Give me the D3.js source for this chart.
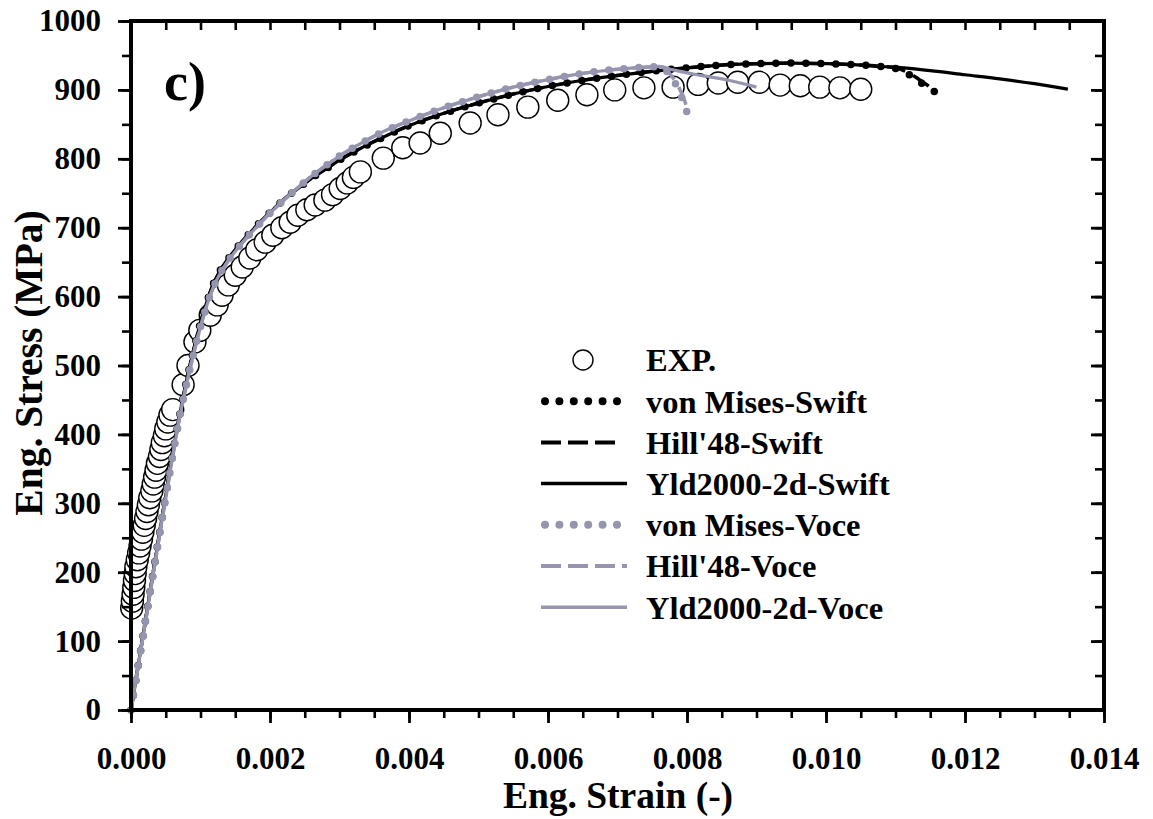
<!DOCTYPE html>
<html>
<head>
<meta charset="utf-8">
<script src="https://cdn.jsdelivr.net/npm/d3@7"></script>
<style>
  html, body { margin: 0; padding: 0; background: #fff; }
  svg { display: block; }
  text { font-family: "Liberation Serif", "Times New Roman", serif; font-weight: bold; fill: #000; }
</style>
</head>
<body>
<svg id="chart" width="1153" height="819"></svg>
<script>
// ---- Experimental points (engineering strain, engineering stress in MPa) ----
const expStrain = [
  0.00001, 0.00002, 0.00003, 0.00004, 0.00005, 0.00006, 0.00007, 0.00009, 0.00011, 0.00013,
  0.00015, 0.00017, 0.00019, 0.00021, 0.00023, 0.00025, 0.00027, 0.00030, 0.00032, 0.00034,
  0.00036, 0.00038, 0.00041, 0.00043, 0.00045, 0.00048, 0.00050, 0.00053, 0.00056, 0.00060,
  0.00075, 0.00082, 0.00092, 0.00099, 0.00114, 0.00124, 0.00131, 0.00140, 0.00150, 0.00160,
  0.00171, 0.00181, 0.00193, 0.00204, 0.00217, 0.00229, 0.00240, 0.00253, 0.00265, 0.00279,
  0.00290, 0.00301, 0.00311, 0.00320, 0.00330, 0.00363, 0.00391, 0.00416, 0.00445, 0.00488,
  0.00528, 0.00571, 0.00614, 0.00656, 0.00696, 0.00738, 0.00780, 0.00816, 0.00845, 0.00873,
  0.00904, 0.00934, 0.00963, 0.00991, 0.01020, 0.01050
];
const expStress = [
  148, 158, 168, 178, 188, 198, 208, 218, 228, 238,
  248, 258, 268, 278, 288, 298, 308, 318, 328, 338,
  348, 358, 368, 378, 388, 398, 408, 418, 428, 436,
  472, 500, 534, 551, 573, 588, 602, 617, 631, 643,
  656, 668, 679, 689, 700, 708, 718, 726, 733, 740,
  748, 757, 765, 773, 781, 801, 816, 823, 837, 852,
  864, 875, 885, 893, 900, 903, 904, 908, 910, 911,
  911, 907, 906, 904, 903, 901
];

// ---- Swift hardening: shared part of the three yield criteria ----
const swiftStrain = [
  0, 0.0002, 0.0004, 0.0006, 0.0007, 0.0008, 0.0009, 0.0010, 0.0011, 0.0012,
  0.0014, 0.0016, 0.0018, 0.0020, 0.0022, 0.0024, 0.0026, 0.0028, 0.0030, 0.0033,
  0.0036, 0.0040, 0.0045, 0.0050, 0.0055, 0.0060, 0.0065, 0.0070, 0.0075, 0.0080,
  0.0085, 0.0090, 0.0095, 0.0100, 0.0105, 0.0108
];
const swiftStress = [
  0, 125, 250, 372, 428, 478, 522, 562, 595, 622,
  655, 680, 702, 722, 741, 757, 772, 785, 798, 815,
  830, 848, 866, 881, 894, 905, 914, 921, 927, 932,
  936, 938, 939, 938, 936, 934
];
// tails after the shared part
const misesSwiftTailStrain = [0.0110, 0.0112, 0.0114, 0.01165];
const misesSwiftTailStress = [931, 922, 908, 892];
const hillSwiftTailStrain = [0.0110, 0.0112, 0.0114, 0.0116];
const hillSwiftTailStress = [932, 924, 911, 896];
const yldSwiftTailStrain = [0.0110, 0.0115, 0.0120, 0.0125, 0.0130, 0.01348];
const yldSwiftTailStress = [933, 928, 922, 916, 909, 901];

// ---- Voce hardening: shared part of the three yield criteria ----
const voceStrain = [
  0, 0.0002, 0.0004, 0.0006, 0.0007, 0.0008, 0.0009, 0.0010, 0.0011, 0.0012,
  0.0014, 0.0016, 0.0018, 0.0020, 0.0022, 0.0024, 0.0026, 0.0028, 0.0030, 0.0033,
  0.0036, 0.0040, 0.0045, 0.0050, 0.0055, 0.0060, 0.0065, 0.0070, 0.0074, 0.0076
];
const voceStress = [
  0, 123, 247, 368, 425, 473, 517, 556, 590, 617,
  652, 678, 700, 721, 740, 758, 775, 790, 804, 822,
  838, 855, 874, 890, 904, 915, 924, 930, 933, 934
];
const misesVoceTailStrain = [0.00775, 0.00786, 0.00795, 0.00801];
const misesVoceTailStress = [922, 904, 882, 864];
const hillVoceTailStrain = [0.00778, 0.00790, 0.00798, 0.00801];
const hillVoceTailStress = [920, 900, 880, 866];
const yldVoceTailStrain = [0.0078, 0.0082, 0.0086, 0.0090];
const yldVoceTailStress = [929, 921, 914, 904];

// ---- Axis ticks and labels ----
const xMajorTicks = [0, 0.002, 0.004, 0.006, 0.008, 0.010, 0.012, 0.014];
const yMajorTicks = [0, 100, 200, 300, 400, 500, 600, 700, 800, 900, 1000];
const legendLabels = ["EXP.", "von Mises-Swift", "Hill'48-Swift", "Yld2000-2d-Swift",
                      "von Mises-Voce", "Hill'48-Voce", "Yld2000-2d-Voce"];

// ---- Chart ----
const GRAY = "#9595af";
const svg = d3.select("#chart");
const x = d3.scaleLinear().domain([0, 0.014]).range([131, 1104]);
const y = d3.scaleLinear().domain([0, 1000]).range([710, 21]);

const xMinor = d3.range(0, 0.01401, 0.0005);
const yMinor = d3.range(0, 1001, 50);

function zip(a, b) { return a.map((v, i) => [v, b[i]]); }
function joinTail(baseS, baseT, tailS, tailT) {
  return zip(baseS, baseT).concat(zip(tailS, tailT));
}
const line = d3.line().x(d => x(d[0])).y(d => y(d[1])).curve(d3.curveMonotoneX);

// experimental points: white-filled open circles drawn in increasing stress
const expData = zip(expStrain, expStress);
svg.append("g").selectAll("circle").data(expData).join("circle")
  .attr("cx", d => x(d[0])).attr("cy", d => y(d[1])).attr("r", 11)
  .attr("fill", "#fff").attr("stroke", "#000").attr("stroke-width", 1.4);

// model curves
const styles = {
  dots:   { dash: "0 15", width: 7.5, cap: "round" },
  dashed: { dash: "19 9", width: 3.5, cap: "butt" },
  solid:  { dash: null,   width: 3.2, cap: "butt" }
};
const curves = [
  { data: joinTail(swiftStrain, swiftStress, yldSwiftTailStrain, yldSwiftTailStress), color: "#000", style: "solid" },
  { data: joinTail(swiftStrain, swiftStress, hillSwiftTailStrain, hillSwiftTailStress), color: "#000", style: "dashed" },
  { data: joinTail(swiftStrain, swiftStress, misesSwiftTailStrain, misesSwiftTailStress), color: "#000", style: "dots" },
  { data: joinTail(voceStrain, voceStress, yldVoceTailStrain, yldVoceTailStress), color: GRAY, style: "solid" },
  { data: joinTail(voceStrain, voceStress, hillVoceTailStrain, hillVoceTailStress), color: GRAY, style: "dashed" },
  { data: joinTail(voceStrain, voceStress, misesVoceTailStrain, misesVoceTailStress), color: GRAY, style: "dots" }
];
svg.append("g").selectAll("path").data(curves).join("path")
  .attr("d", d => line(d.data))
  .attr("fill", "none")
  .attr("stroke", d => d.color)
  .attr("stroke-width", d => styles[d.style].width)
  .attr("stroke-linecap", d => styles[d.style].cap)
  .attr("stroke-dasharray", d => styles[d.style].dash);

// axes
function styleAxis(g, w) {
  g.select(".domain").remove();
  g.selectAll(".tick line").attr("stroke", "#000").attr("stroke-width", w);
}
svg.append("g").attr("transform", "translate(0,710)")
  .call(d3.axisBottom(x).tickValues(xMinor).tickSize(8).tickFormat(""))
  .call(g => styleAxis(g, 2.6));
svg.append("g").attr("transform", "translate(0,710)")
  .call(d3.axisBottom(x).tickValues(xMajorTicks).tickSize(13).tickPadding(24).tickFormat(d3.format(".3f")))
  .call(g => styleAxis(g, 2.8))
  .call(g => g.selectAll("text").attr("font-size", 31).attr("fill", "#000"));
svg.append("g").attr("transform", "translate(0,21)")
  .call(d3.axisTop(x).tickValues(xMinor).tickSize(-9).tickFormat(""))
  .call(g => styleAxis(g, 2.6));
svg.append("g").attr("transform", "translate(131,0)")
  .call(d3.axisLeft(y).tickValues(yMinor).tickSize(9).tickFormat(""))
  .call(g => styleAxis(g, 2.6));
svg.append("g").attr("transform", "translate(131,0)")
  .call(d3.axisLeft(y).tickValues(yMajorTicks).tickSize(13).tickPadding(17).tickFormat(d3.format("d")))
  .call(g => styleAxis(g, 2.8))
  .call(g => g.selectAll("text").attr("font-size", 31).attr("fill", "#000"));
svg.append("g").attr("transform", "translate(1104,0)")
  .call(d3.axisRight(y).tickValues(yMinor).tickSize(-9).tickFormat(""))
  .call(g => styleAxis(g, 2.6));
svg.append("g").attr("transform", "translate(1104,0)")
  .call(d3.axisRight(y).tickValues(yMajorTicks).tickSize(-13).tickFormat(""))
  .call(g => styleAxis(g, 2.8));

// frame
svg.append("rect").attr("x", 131).attr("y", 21).attr("width", 973).attr("height", 689)
  .attr("fill", "none").attr("stroke", "#000").attr("stroke-width", 4);

// axis titles
svg.append("text").attr("x", 618).attr("y", 808).attr("text-anchor", "middle")
  .attr("font-size", 37.5).text("Eng. Strain (-)");
svg.append("text").attr("transform", "translate(42,363) rotate(-90)").attr("text-anchor", "middle")
  .attr("font-size", 39.5).text("Eng. Stress (MPa)");

// panel tag
svg.append("text").attr("x", 164).attr("y", 100).attr("font-size", 54).text("c)");

// legend
const legX0 = 541, legX1 = 627, legText = 646, legY0 = 360, legDy = 41.2;
const legendStyles = [
  { kind: "circle" },
  { color: "#000", style: "dots" },
  { color: "#000", style: "dashed" },
  { color: "#000", style: "solid" },
  { color: GRAY, style: "dots" },
  { color: GRAY, style: "dashed" },
  { color: GRAY, style: "solid" }
];
const leg = svg.append("g");
legendLabels.forEach((label, i) => {
  const cy = legY0 + i * legDy;
  const s = legendStyles[i];
  if (s.kind === "circle") {
    leg.append("circle").attr("cx", 583).attr("cy", cy).attr("r", 10)
      .attr("fill", "#fff").attr("stroke", "#000").attr("stroke-width", 1.4);
  } else {
    const st = styles[s.style];
    const x1 = s.style === "dots" ? 617 : (s.style === "dashed" && s.color === "#000" ? 617 : legX1);
    leg.append("line").attr("x1", s.style === "dots" ? 545 : legX0).attr("x2", x1)
      .attr("y1", cy).attr("y2", cy)
      .attr("stroke", s.color)
      .attr("stroke-width", s.style === "dots" ? 8 : (s.style === "dashed" ? 4 : 3.5))
      .attr("stroke-linecap", st.cap)
      .attr("stroke-dasharray", s.style === "dots" ? "0 14.4" : (s.style === "dashed" ? "20 7" : null));
  }
  leg.append("text").attr("x", legText).attr("y", cy).attr("dy", "0.35em")
    .attr("font-size", 32.5).text(label);
});
</script>
</body>
</html>
